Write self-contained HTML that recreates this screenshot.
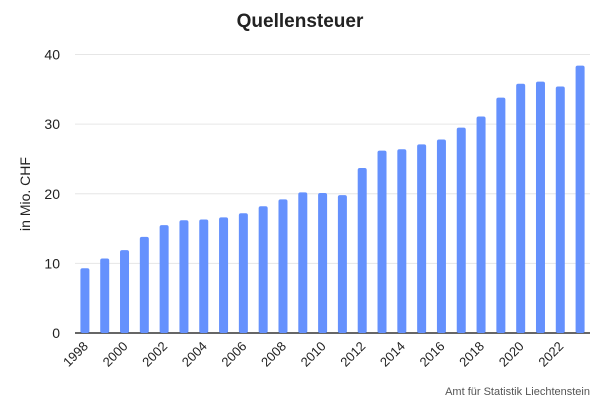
<!DOCTYPE html>
<html><head><meta charset="utf-8"><style>
body{margin:0;background:#fff;font-family:"Liberation Sans",sans-serif}
</style></head><body>
<svg width="600" height="400" xmlns="http://www.w3.org/2000/svg">
<rect width="600" height="400" fill="#fff"/>
<text x="300" y="27" text-anchor="middle" font-size="19" font-weight="bold" fill="#222">Quellensteuer</text>
<text transform="translate(30,194) rotate(-90)" text-anchor="middle" font-size="14" fill="#222">in Mio. CHF</text>
<g id="grid"></g><g id="bars"></g><g id="xl"></g>
<text x="590" y="395" text-anchor="end" font-size="11" fill="#555">Amt für Statistik Liechtenstein</text>
</svg>
<script>
const years=[1998,1999,2000,2001,2002,2003,2004,2005,2006,2007,2008,2009,2010,2011,2012,2013,2014,2015,2016,2017,2018,2019,2020,2021,2022,2023];
const values=[9.3,10.7,11.9,13.8,15.5,16.2,16.3,16.6,17.2,18.2,19.2,20.2,20.1,19.8,23.7,26.2,26.4,27.1,27.8,29.5,31.1,33.8,35.8,36.1,35.4,38.4];
const yTicks=[0,10,20,30,40];
const NS="http://www.w3.org/2000/svg";
const x0=75,x1=590,y0=333,y1=54.5;
const band=(x1-x0)/years.length;
const xs=i=>x0+band*(i+0.5);
const ys=v=>y0-(v/40)*(y0-y1);
function mk(t,a,p){const e=document.createElementNS(NS,t);for(const k in a)e.setAttribute(k,a[k]);p.appendChild(e);return e;}
const g=document.getElementById('grid'),b=document.getElementById('bars'),xl=document.getElementById('xl');
yTicks.forEach(t=>{
 const l=mk('line',{x1:x0,x2:x1,y1:ys(t),y2:ys(t),stroke:t===0?'#333':'#e6e6e6','stroke-width':t===0?1.5:1},g);
 
 
 const tx=mk('text',{x:60,y:ys(t)+5,'text-anchor':'end','font-size':14,fill:'#222'},g);
 tx.textContent=t;
 
 
});
years.forEach((yr,i)=>{
 const r=mk('rect',{x:xs(i)-4.5,y:ys(values[i]),width:9,height:ys(0)-ys(values[i]),rx:2,fill:'#6591fd'},b);
 
 
 if(yr%2===0){
  const t=mk('text',{x:xs(i)+4,y:347,'text-anchor':'end','font-size':13,fill:'#222',transform:`rotate(-45 ${xs(i)+4} 347)`},xl);
  t.textContent=yr;
  
  
 }
});
</script>
</body></html>
